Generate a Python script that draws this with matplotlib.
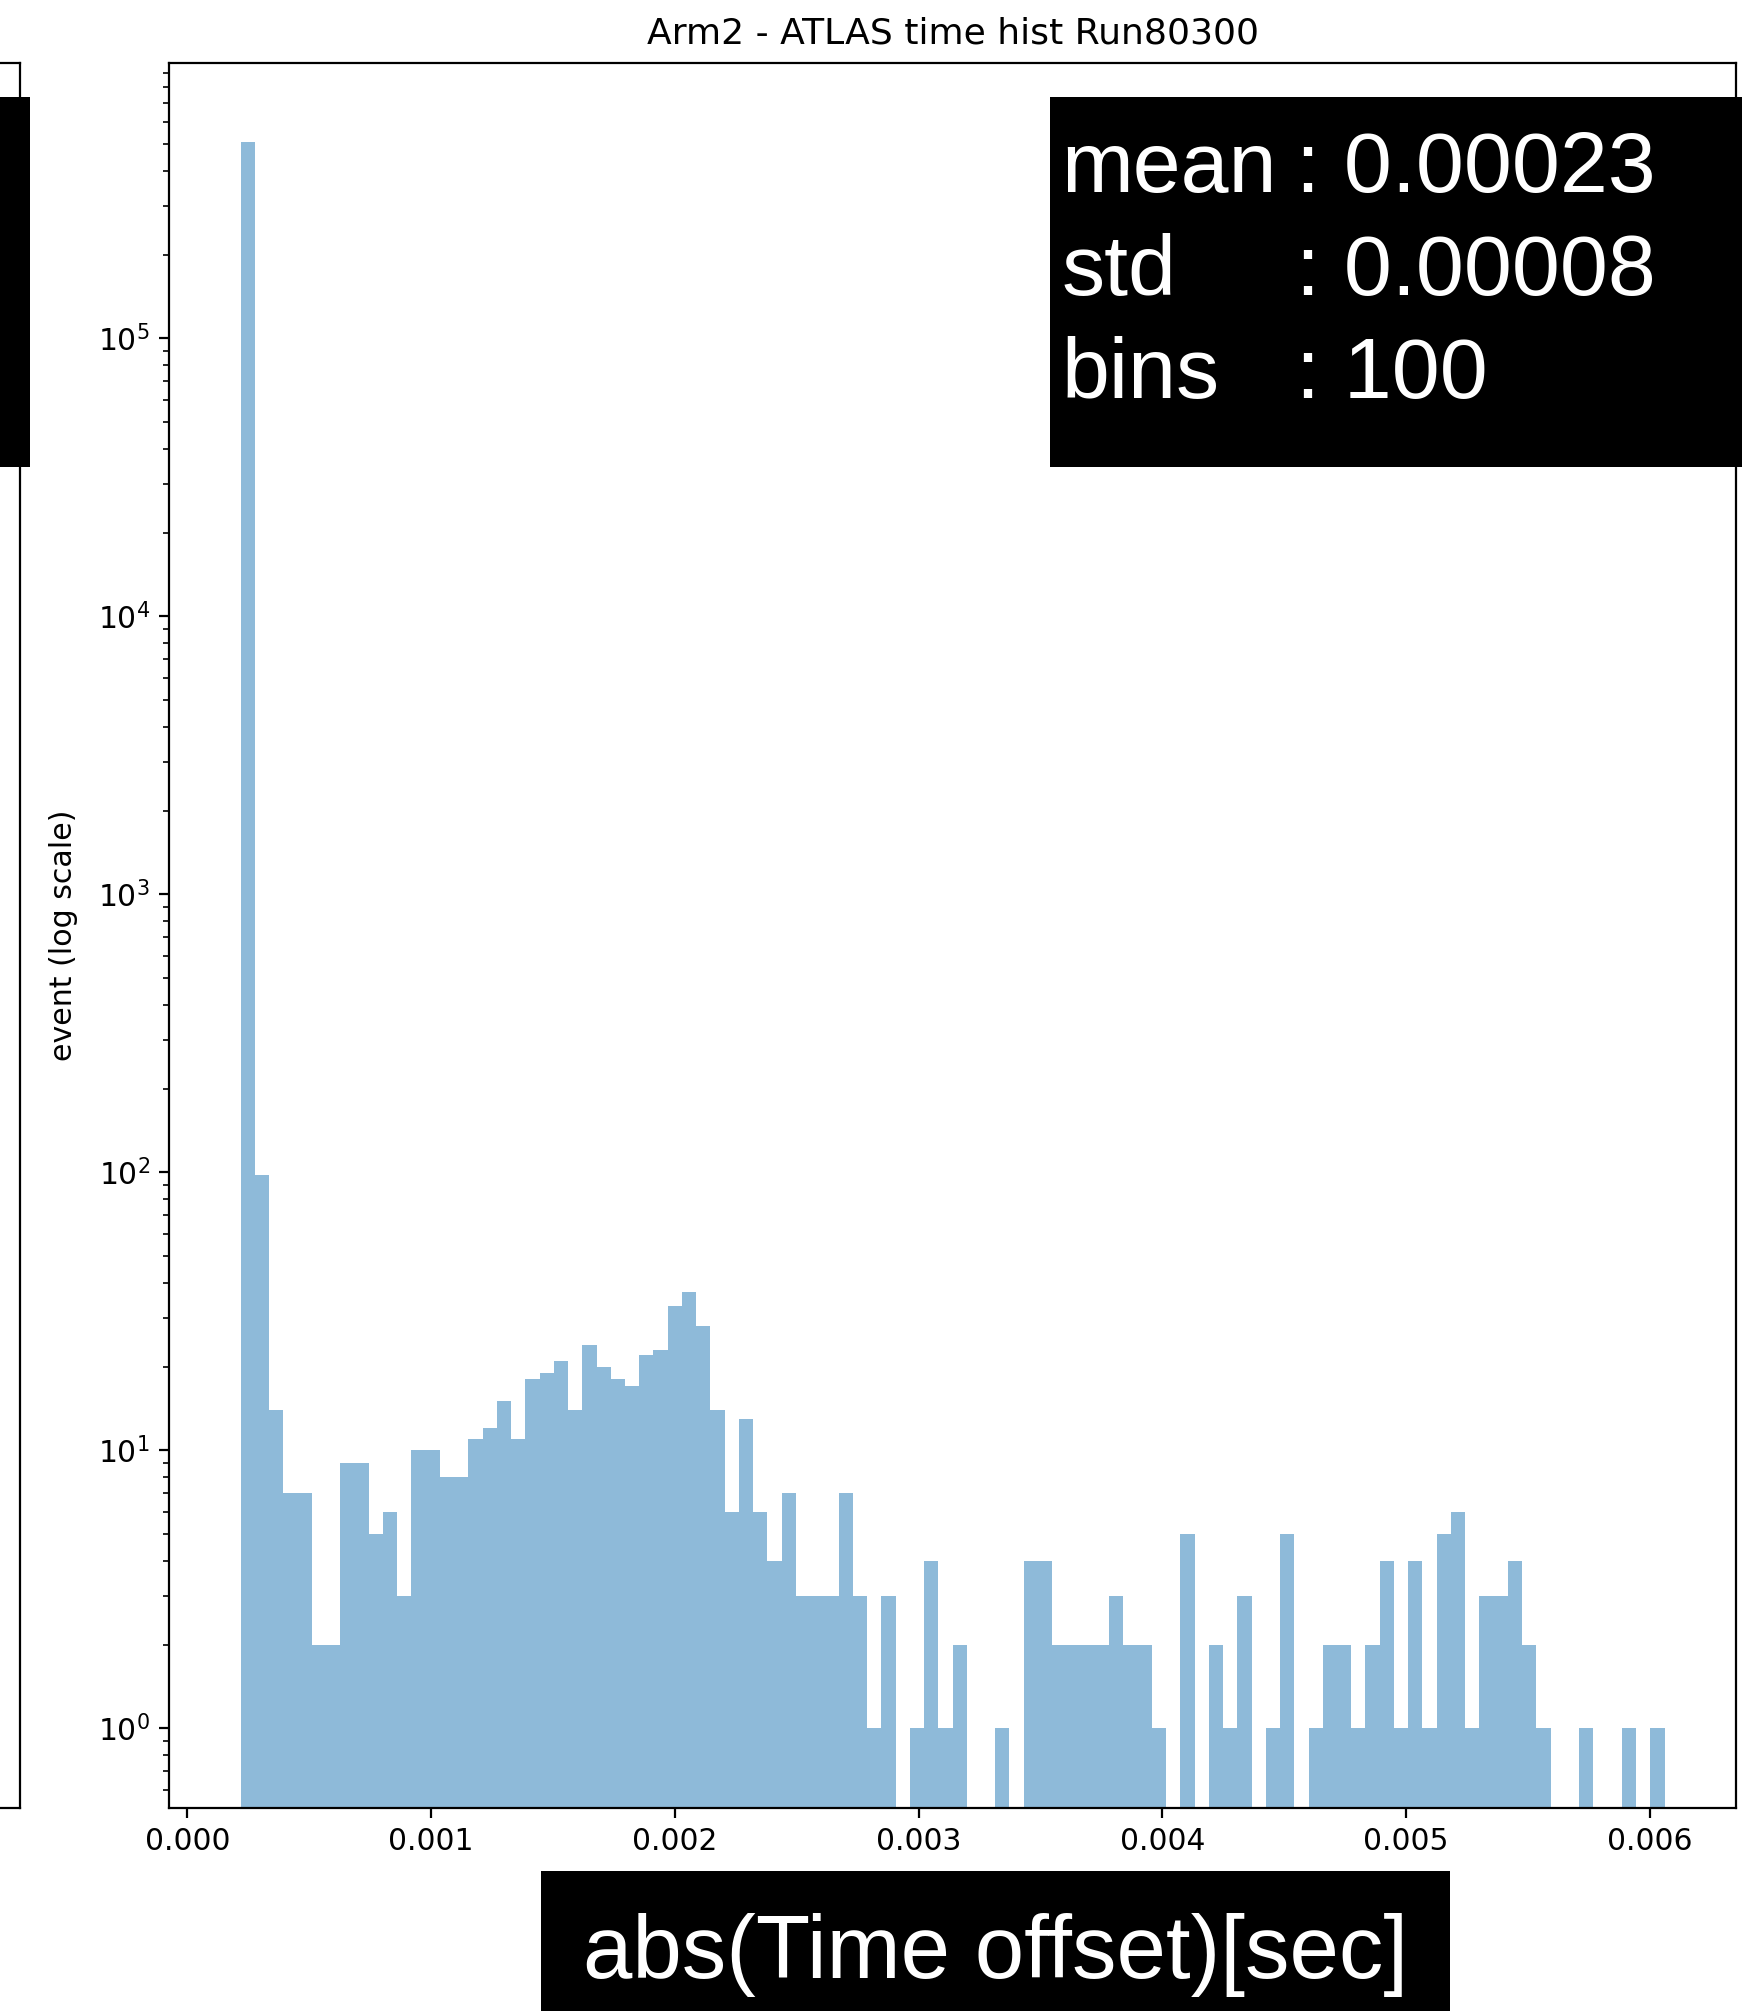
import numpy as np
import matplotlib
matplotlib.use('Agg')
import matplotlib.pyplot as plt
from matplotlib.patches import Rectangle

# per-bin event counts, 100 bins of |time offset|
COUNTS = [
    508000, 98, 14, 7, 7, 2, 2, 9, 9, 5,
    6, 3, 10, 10, 8, 8, 11, 12, 15, 11,
    18, 19, 21, 14, 24, 20, 18, 17, 22, 23,
    33, 37, 28, 14, 6, 13, 6, 4, 7, 3,
    3, 3, 7, 3, 1, 3, 0, 1, 4, 1,
    2, 0, 0, 1, 0, 4, 4, 2, 2, 2,
    2, 3, 2, 2, 1, 0, 5, 0, 2, 1,
    3, 0, 1, 5, 0, 1, 2, 2, 1, 2,
    4, 1, 4, 1, 5, 6, 1, 3, 3, 4,
    2, 1, 0, 0, 1, 0, 0, 1, 0, 1,
]
BIN_LO = 0.000218
BIN_HI = 0.00606
N_BINS = 100

TITLE = "Arm2 - ATLAS time hist Run80300"
YLABEL = "event (log scale)"
XLABEL = "abs(Time offset)[sec]"
STAT_KEYS = ["mean", "std", "bins"]
STAT_VALS = [": 0.00023", ": 0.00008", ": 100"]

W, H = 1742, 2011

plt.rcParams.update({
    'xtick.labelsize': 10.7,
    'ytick.labelsize': 10.7,
})


def px_box(x0, y0, x1, y1):
    """figure-fraction rectangle from pixel corners (y measured from top)"""
    return (x0 / W, 1 - y1 / H, (x1 - x0) / W, (y1 - y0) / H)


fig = plt.figure(figsize=(W / 200, H / 200), dpi=200)

# neighbouring panel, only its right edge is in view
ax_left = fig.add_axes([-0.3, 0.1011, 0.3115, 0.8677])
ax_left.set_xticks([])
ax_left.set_yticks([])

ax = fig.add_axes([0.0972, 0.1011, 0.8992, 0.8677])
edges = np.linspace(BIN_LO, BIN_HI, N_BINS + 1)
centers = 0.5 * (edges[:-1] + edges[1:])
ax.hist(centers, bins=edges, weights=COUNTS, log=True, alpha=0.5, color='C0')
ax.set_title(TITLE, fontsize=13, pad=7)
ax.set_ylabel(YLABEL, fontsize=10.8, labelpad=7)

# black annotation boxes
for x0, y0, x1, y1 in [(0, 97, 29.5, 467), (1050, 97, 1742, 467), (541, 1871, 1450, 2011)]:
    l, b, w, h = px_box(x0, y0, x1, y1)
    fig.add_artist(Rectangle((l, b), w, h, transform=fig.transFigure,
                             facecolor='black', edgecolor='none', zorder=10))

font = 'Liberation Sans'
for i, (k, v) in enumerate(zip(STAT_KEYS, STAT_VALS)):
    yb = 1 - (191.7 + 103.3 * i) / H
    fig.text(1061.5 / W, yb, k, color='white', fontsize=31, family=font,
             va='baseline', ha='left', zorder=11)
    fig.text(1296 / W, yb, v, color='white', fontsize=31, family=font,
             va='baseline', ha='left', zorder=11)

fig.text(995.5 / W, 1 - 1978 / H, XLABEL, color='white', fontsize=32, family=font,
         va='baseline', ha='center', zorder=11)

fig.savefig('out.png', dpi=200)
